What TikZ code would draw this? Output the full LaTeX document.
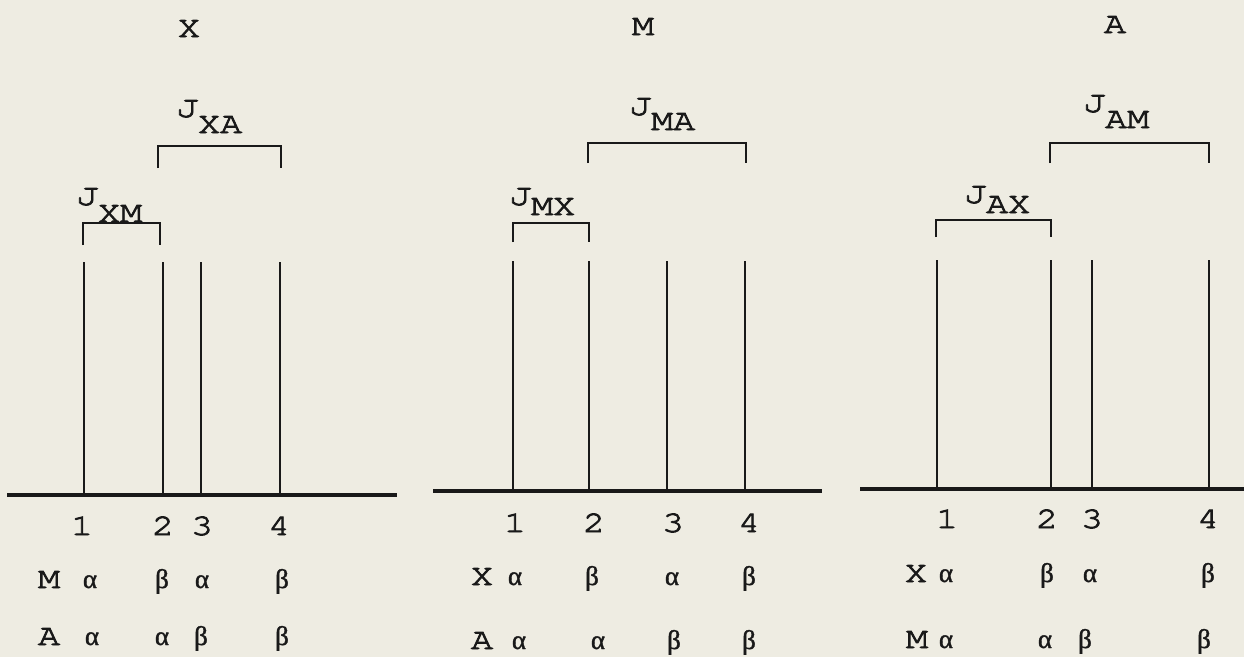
\documentclass[tikz,border=0pt]{standalone}
\usepackage{fontspec}
\newfontfamily\tw[FakeStretch=1.22,FakeBold=3]{texgyrecursor-regular.otf}
\newfontfamily\grk[FakeBold=1.5]{Liberation Serif}
\definecolor{paper}{RGB}{238,236,226}
\definecolor{ink}{RGB}{25,25,25}
\tikzset{
  lbl/.style={font=\tw\fontsize{30}{34}\selectfont, inner sep=0pt, text=ink, anchor=base},
  jlbl/.style={font=\tw\fontsize{30}{34}\selectfont, inner sep=0pt, text=ink, anchor=base west},
  gk/.style={font=\grk\fontsize{27}{30}\selectfont, inner sep=0pt, text=ink, anchor=base},
  stem/.style={line width=2.9pt, draw=ink},
  axisline/.style={line width=3.6pt, draw=ink},
  brk/.style={line width=2.9pt, draw=ink},
}
\newcommand{\jsub}[2]{J\kern0pt\raisebox{-#2}{#1}}
\newcommand{\ga}{α}
\newcommand{\gb}{β}
\begin{document}
\begin{tikzpicture}[x=1pt,y=-1pt]
\path[use as bounding box, fill=paper] (0,0) rectangle (1244,657);

% ---------------- Panel 1 (X) ----------------
\node[lbl] (tX) at (189,37) {X};
\node[jlbl] (jXA) at (176,117) {\jsub{XA}{16pt}};
\node[jlbl] (jXM) at (76,205) {\jsub{XM}{17pt}};
\coordinate (a1l) at (7,495);
\coordinate (a1r) at (397,495);
\draw[axisline] (a1l) -- (a1r);
\foreach \i/\x in {1/84,2/163,3/201,4/280}{
  \coordinate (s1t\i) at (\x,262);
  \coordinate (s1b\i) at (\x,495);
  \draw[stem] (s1t\i) -- (s1b\i);
}
\coordinate (b1la) at (83,245); \coordinate (b1lb) at (83,223);
\coordinate (b1lc) at (160,223); \coordinate (b1ld) at (160,245);
\draw[brk] (b1la) -- (b1lb) -- (b1lc) -- (b1ld);
\coordinate (b1ua) at (158,168); \coordinate (b1ub) at (158,146);
\coordinate (b1uc) at (281,146); \coordinate (b1ud) at (281,168);
\draw[brk] (b1ua) -- (b1ub) -- (b1uc) -- (b1ud);
\node[lbl] (n11) at (82,535) {1};
\node[lbl] (n12) at (163,535) {2};
\node[lbl] (n13) at (202,535) {3};
\node[lbl] (n14) at (279,535) {4};
\node[lbl] (r1M) at (49,588) {M};
\node[gk] (g1M1) at (90,588) {\ga};
\node[gk] (g1M2) at (162,588) {\gb};
\node[gk] (g1M3) at (202,588) {\ga};
\node[gk] (g1M4) at (282,588) {\gb};
\node[lbl] (r1A) at (49,645) {A};
\node[gk] (g1A1) at (92,645) {\ga};
\node[gk] (g1A2) at (162,645) {\ga};
\node[gk] (g1A3) at (201,645) {\gb};
\node[gk] (g1A4) at (282,645) {\gb};

% ---------------- Panel 2 (M) ----------------
\node[lbl] (tM) at (643,35) {M};
\node[jlbl] (jMA) at (629,115) {\jsub{MA}{15pt}};
\node[jlbl] (jMX) at (509,205) {\jsub{MX}{10pt}};
\coordinate (a2l) at (433,491);
\coordinate (a2r) at (822,491);
\draw[axisline] (a2l) -- (a2r);
\foreach \i/\x in {1/513,2/589,3/667,4/745}{
  \coordinate (s2t\i) at (\x,261);
  \coordinate (s2b\i) at (\x,491);
  \draw[stem] (s2t\i) -- (s2b\i);
}
\coordinate (b2la) at (513,242); \coordinate (b2lb) at (513,223);
\coordinate (b2lc) at (589,223); \coordinate (b2ld) at (589,242);
\draw[brk] (b2la) -- (b2lb) -- (b2lc) -- (b2ld);
\coordinate (b2ua) at (588,163); \coordinate (b2ub) at (588,143);
\coordinate (b2uc) at (746,143); \coordinate (b2ud) at (746,163);
\draw[brk] (b2ua) -- (b2ub) -- (b2uc) -- (b2ud);
\node[lbl] (n21) at (515,532) {1};
\node[lbl] (n22) at (594,532) {2};
\node[lbl] (n23) at (673,532) {3};
\node[lbl] (n24) at (749,532) {4};
\node[lbl] (r2X) at (482,585) {X};
\node[gk] (g2X1) at (515,585) {\ga};
\node[gk] (g2X2) at (592,585) {\gb};
\node[gk] (g2X3) at (672,585) {\ga};
\node[gk] (g2X4) at (749,585) {\gb};
\node[lbl] (r2A) at (482,649) {A};
\node[gk] (g2A1) at (519,649) {\ga};
\node[gk] (g2A2) at (598,649) {\ga};
\node[gk] (g2A3) at (674,649) {\gb};
\node[gk] (g2A4) at (749,649) {\gb};

% ---------------- Panel 3 (A) ----------------
\node[lbl] (tA) at (1115,33) {A};
\node[jlbl] (jAM) at (1083,112) {\jsub{AM}{16pt}};
\node[jlbl] (jAX) at (964,203) {\jsub{AX}{10pt}};
\coordinate (a3l) at (860,489);
\coordinate (a3r) at (1244,489);
\draw[axisline] (a3l) -- (a3r);
\foreach \i/\x in {1/937,2/1051,3/1092,4/1209}{
  \coordinate (s3t\i) at (\x,260);
  \coordinate (s3b\i) at (\x,489);
  \draw[stem] (s3t\i) -- (s3b\i);
}
\coordinate (b3la) at (936,237); \coordinate (b3lb) at (936,220);
\coordinate (b3lc) at (1051,220); \coordinate (b3ld) at (1051,237);
\draw[brk] (b3la) -- (b3lb) -- (b3lc) -- (b3ld);
\coordinate (b3ua) at (1050,163); \coordinate (b3ub) at (1050,143);
\coordinate (b3uc) at (1209,143); \coordinate (b3ud) at (1209,163);
\draw[brk] (b3ua) -- (b3ub) -- (b3uc) -- (b3ud);
\node[lbl] (n31) at (947,528) {1};
\node[lbl] (n32) at (1047,528) {2};
\node[lbl] (n33) at (1092,528) {3};
\node[lbl] (n34) at (1208,528) {4};
\node[lbl] (r3X) at (916,582) {X};
\node[gk] (g3X1) at (946,582) {\ga};
\node[gk] (g3X2) at (1047,582) {\gb};
\node[gk] (g3X3) at (1090,582) {\ga};
\node[gk] (g3X4) at (1208,582) {\gb};
\node[lbl] (r3M) at (917,648) {M};
\node[gk] (g3M1) at (946,648) {\ga};
\node[gk] (g3M2) at (1045,648) {\ga};
\node[gk] (g3M3) at (1085,648) {\gb};
\node[gk] (g3M4) at (1204,648) {\gb};
\end{tikzpicture}
\end{document}
